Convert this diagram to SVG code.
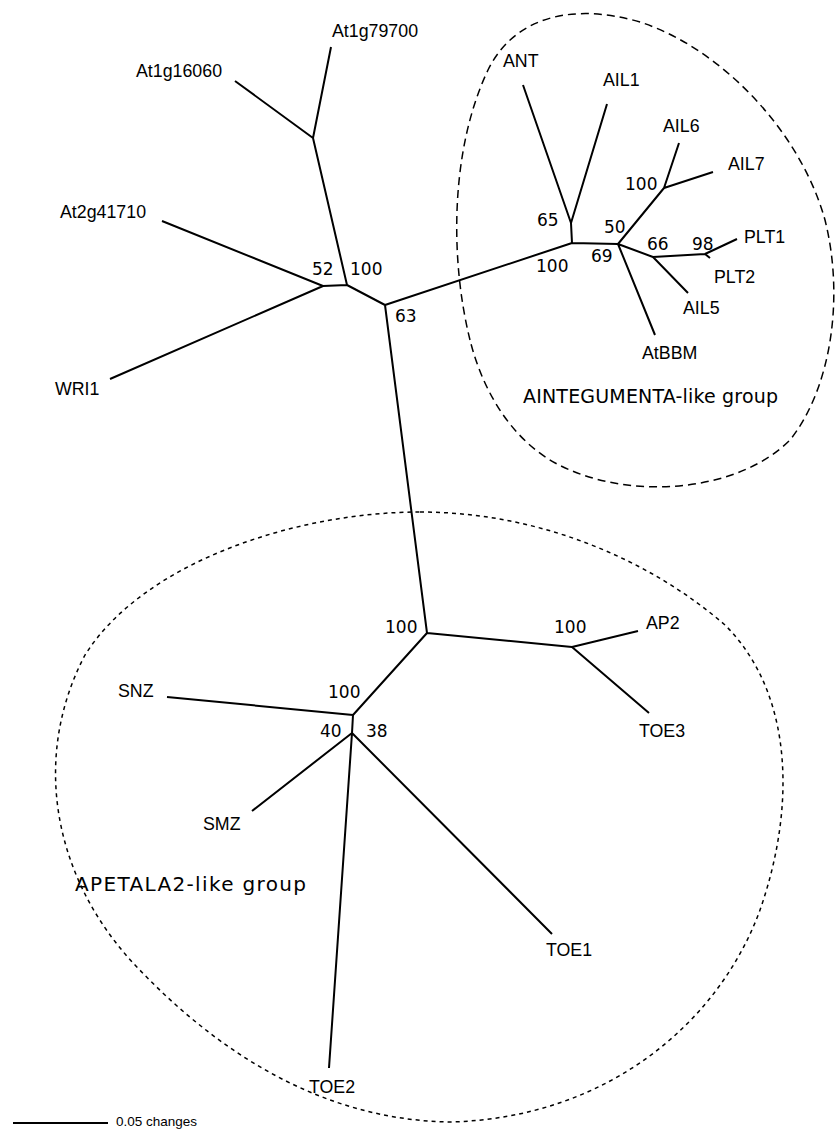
<svg xmlns="http://www.w3.org/2000/svg" width="835" height="1130" viewBox="0 0 835 1130">
<style>
.e{stroke:#000;stroke-width:2;fill:none;stroke-linecap:butt}
.lab{font-family:"Liberation Sans",Arial,sans-serif;font-size:17.8px;fill:#000}
.bs{font-family:"DejaVu Sans",sans-serif;font-size:17px;fill:#000}
.grp{font-family:"DejaVu Sans",sans-serif;font-size:19px;fill:#000}
.dash{stroke:#000;stroke-width:1.5;fill:none;stroke-dasharray:8 5}
.dot{stroke:#000;stroke-width:1.5;fill:none;stroke-dasharray:4 4}
</style>
<rect width="835" height="1130" fill="#fff"/>
<g id="groups">
<path class="dash" d="M470,340 C450,260 450,150 488,70 C515,15 575,3 640,22 C720,48 800,130 825,220 C845,300 830,390 790,440 C740,490 640,500 570,470 C520,450 485,400 470,340 Z"/>
<path class="dot" d="M420,512 C540,512 650,560 725,625 C795,695 795,810 760,910 C720,1020 610,1118 450,1122 C320,1120 215,1050 135,965 C55,880 30,760 85,655 C145,560 300,512 420,512 Z"/>
</g>
<g id="connectors">
<path class="e" d="M331,47 L313,138 M235,81 L313,138 M313,138 L347,285 M162,221 L323,286 M110,379 L323,286 M323,286 L347,285 M347,285 L385,305"/>
<path class="e" d="M385,305 L572,243 M572,243 L571,223 M523,85 L571,223 M607,104 L571,223 M572,243 L618,244 M618,244 L664,188 M679,143 L664,188 M713,172 L664,188 M618,244 L653,257 M653,257 L705,254 M705,254 L737,239 M705,254 L710,258 M653,257 L688,293 M618,244 L655,335"/>
<path class="e" d="M385,305 L427,633 M427,633 L572,647 M572,647 L638,631 M572,647 L649,713 M427,633 L353,715 M167,697 L353,715 M353,715 L352,733 M352,733 L252,811 M352,733 L329,1068 M352,733 L552,934"/>
<path class="e" d="M13,1123 L108,1123"/>
</g>
<g id="leaves">
<text class="lab" x="332" y="37">At1g79700</text>
<text class="lab" x="136" y="77">At1g16060</text>
<text class="lab" x="60" y="218">At2g41710</text>
<text class="lab" x="55" y="395">WRI1</text>
<text class="lab" x="503" y="67">ANT</text>
<text class="lab" x="603" y="86">AIL1</text>
<text class="lab" x="663" y="132">AIL6</text>
<text class="lab" x="728" y="170">AIL7</text>
<text class="lab" x="744" y="243">PLT1</text>
<text class="lab" x="714" y="283">PLT2</text>
<text class="lab" x="683" y="314">AIL5</text>
<text class="lab" x="642" y="359">AtBBM</text>
<text class="lab" x="646" y="629">AP2</text>
<text class="lab" x="639" y="737">TOE3</text>
<text class="lab" x="118" y="697">SNZ</text>
<text class="lab" x="203" y="830">SMZ</text>
<text class="lab" x="546" y="956">TOE1</text>
<text class="lab" x="309" y="1093">TOE2</text>
<text class="lab" x="116" y="1126" style="font-size:13.5px">0.05 changes</text>
</g>
<g id="support">
<text class="bs" x="312" y="275">52</text>
<text class="bs" x="350" y="275">100</text>
<text class="bs" x="395" y="322">63</text>
<text class="bs" x="537" y="226">65</text>
<text class="bs" x="625" y="190">100</text>
<text class="bs" x="604" y="233">50</text>
<text class="bs" x="591" y="262">69</text>
<text class="bs" x="647" y="250">66</text>
<text class="bs" x="692" y="250">98</text>
<text class="bs" x="536" y="272">100</text>
<text class="bs" x="385" y="633">100</text>
<text class="bs" x="554" y="633">100</text>
<text class="bs" x="328" y="698">100</text>
<text class="bs" x="320" y="737">40</text>
<text class="bs" x="366" y="737">38</text>
</g>
<g id="group-labels">
<text class="grp" x="523" y="403" textLength="255" lengthAdjust="spacing">AINTEGUMENTA-like group</text>
<text class="grp" x="75" y="891" style="font-size:20px" textLength="231" lengthAdjust="spacing">APETALA2-like group</text>
</g>
</svg>
